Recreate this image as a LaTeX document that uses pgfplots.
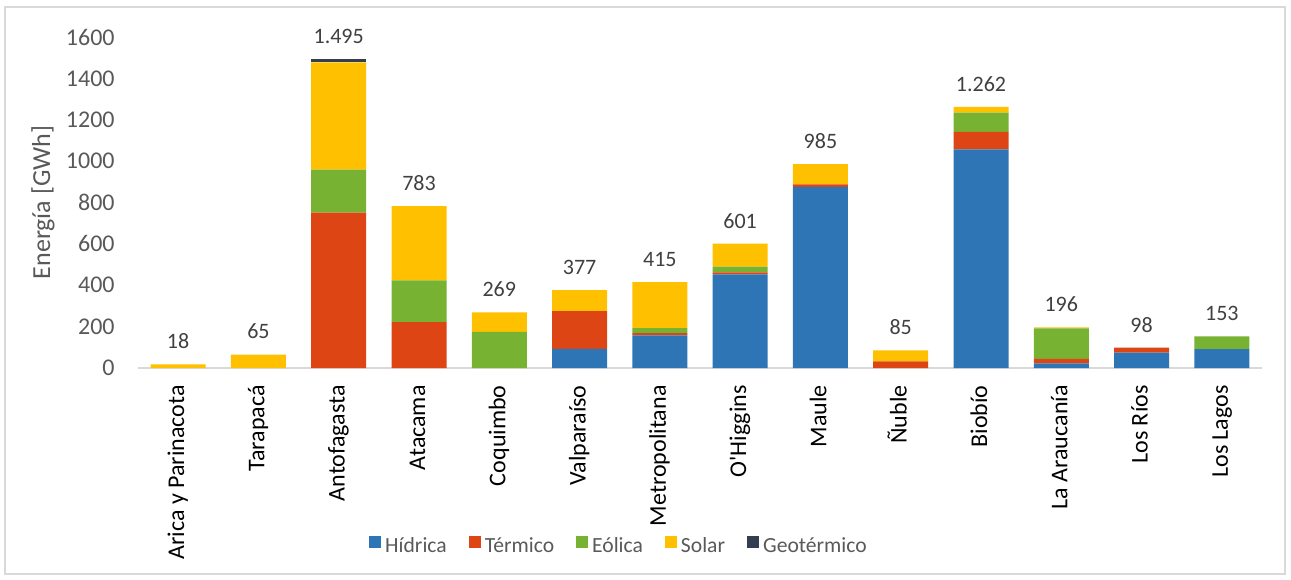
\documentclass[border=0pt]{standalone}
\usepackage{pgfplots}
\pgfplotsset{compat=1.18}
\usepackage{fontspec}
\setmainfont{Carlito}[Ligatures=TeXOff]
\definecolor{hid}{HTML}{2E75B6}
\definecolor{ter}{HTML}{DD4515}
\definecolor{eol}{HTML}{77B232}
\definecolor{sol}{HTML}{FFC000}
\definecolor{geo}{HTML}{333F50}
\definecolor{frame}{HTML}{D9D9D9}
\definecolor{tgray}{HTML}{595959}
\definecolor{lgray}{HTML}{404040}
\begin{document}
\begin{tikzpicture}
\useasboundingbox (0pt,0pt) rectangle (645.5pt,289.5pt);
\draw[frame, line width=0.6pt] (2.5pt,2.5pt) rectangle (642.5pt,286pt);
\begin{axis}[
  at={(69pt,105.5pt)}, anchor=south west,
  scale only axis, width=562pt, height=165.5pt,
  ybar stacked, bar width=27.5pt,
  xmin=-0.5, xmax=13.5, ymin=0, ymax=1600,
  ytick={0,200,...,1600},
  xtick={0,...,13},
  xticklabels={Arica y Parinacota,Tarapacá,Antofagasta,Atacama,Coquimbo,Valparaíso,Metropolitana,O'Higgins,Maule,Ñuble,Biobío,La Araucanía,Los Ríos,Los Lagos},
  axis x line*=bottom, axis y line*=left,
  x axis line style={frame, line width=0.8pt},
  y axis line style={draw=none},
  tick style={draw=none},
  /pgf/number format/assume math mode=true,
  /pgf/number format/1000 sep={},
  yticklabel style={font=\fontsize{12}{14}\selectfont, text=tgray, anchor=east, inner ysep=0pt, inner xsep=11.5pt},
  xticklabel style={font=\fontsize{12}{14}\selectfont, text=black, rotate=90, anchor=east, inner ysep=0pt, inner xsep=8.5pt, text height=8.5pt, text depth=2.5pt},
  ylabel={Energía [GWh]},
  ylabel style={font=\fontsize{13}{15}\selectfont, text=tgray, at={(axis description cs:-0.0845,0.5)}, anchor=center},
  legend columns=5,
  legend style={at={(0.4288,-0.5408)}, anchor=center, draw=none, fill=none,
    font=\fontsize{10.8}{12}\selectfont, text=tgray,
    /tikz/every even column/.append style={column sep=9pt},
    nodes={inner xsep=2pt, inner ysep=1pt, text height=7.5pt, text depth=2pt}},
  legend image code/.code={\fill[#1] (0pt,-0.5pt) rectangle (6pt,5.5pt);},
]
\addplot[fill=hid, draw=none] coordinates {(0,0) (1,0) (2,0) (3,0) (4,0) (5,93) (6,158) (7,452) (8,876) (9,0) (10,1057) (11,22) (12,74) (13,91)};
\addlegendentry{Hídrica}
\addplot[fill=ter, draw=none] coordinates {(0,0) (1,0) (2,751) (3,222) (4,0) (5,182) (6,11) (7,10) (8,12) (9,32) (10,84) (11,22) (12,24) (13,0)};
\addlegendentry{Térmico}
\addplot[fill=eol, draw=none] coordinates {(0,0) (1,0) (2,208) (3,202) (4,175) (5,0) (6,24) (7,28) (8,0) (9,0) (10,94) (11,147) (12,0) (13,62)};
\addlegendentry{Eólica}
\addplot[fill=sol, draw=none] coordinates {(0,18) (1,65) (2,518) (3,359) (4,94) (5,102) (6,222) (7,111) (8,97) (9,53) (10,27) (11,5) (12,0) (13,0)};
\addlegendentry{Solar}
\addplot[fill=geo, draw=none] coordinates {(0,0) (1,0) (2,18) (3,0) (4,0) (5,0) (6,0) (7,0) (8,0) (9,0) (10,0) (11,0) (12,0) (13,0)};
\addlegendentry{Geotérmico}
\end{axis}
\begin{axis}[
  at={(69pt,105.5pt)}, anchor=south west,
  scale only axis, width=562pt, height=165.5pt,
  xmin=-0.5, xmax=13.5, ymin=0, ymax=1600,
  hide axis,
]
\addplot[draw=none, mark=none, nodes near coords, point meta=explicit symbolic,
  every node near coord/.append style={font=\fontsize{11}{12}\selectfont, text=lgray, anchor=south, inner sep=0pt, yshift=7.5pt}]
  coordinates {(0,18) [18] (1,65) [65] (2,1495) [1.495] (3,783) [783] (4,269) [269] (5,377) [377] (6,415) [415] (7,601) [601] (8,985) [985] (9,85) [85] (10,1262) [1.262] (11,196) [196] (12,98) [98] (13,153) [153]};
\end{axis}
\end{tikzpicture}
\end{document}
